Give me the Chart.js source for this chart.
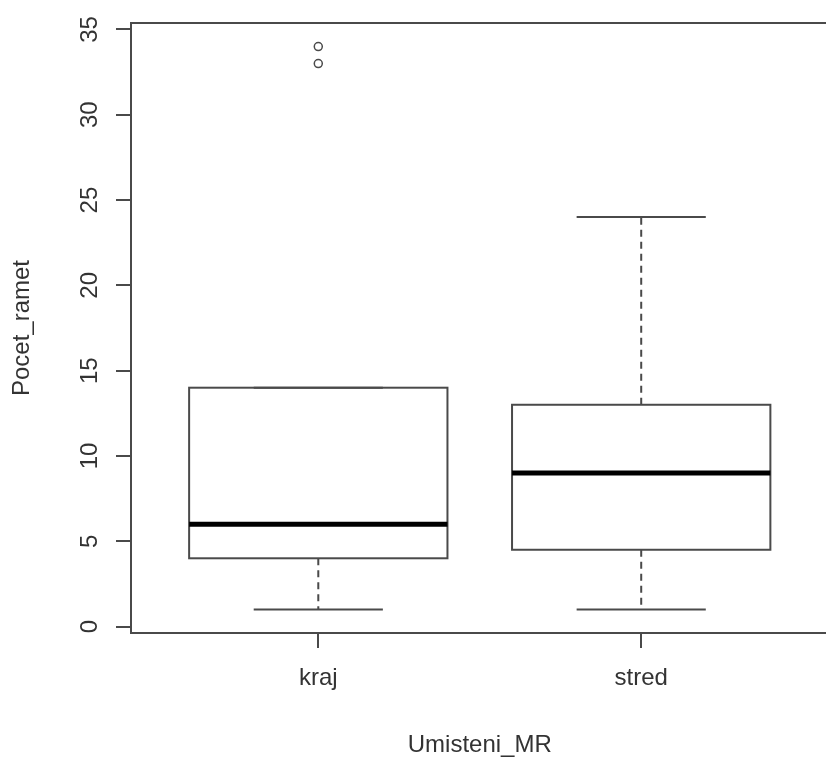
<!DOCTYPE html>
<html>
<head>
<meta charset="utf-8">
<script src="https://cdn.jsdelivr.net/npm/chart.js@4.4.0/dist/chart.umd.min.js"></script>
<style>
  html, body { margin: 0; padding: 0; background: #fff; overflow: hidden; }
  #wrap { width: 826px; height: 758px; overflow: hidden; }
  #box-chart { display: block; }
</style>
</head>
<body>
<div id="wrap"><canvas id="box-chart" width="834" height="758"></canvas></div>
<script>
// Boxplot data: Pocet_ramet by Umisteni_MR
const categories = ['kraj', 'stred'];
const whiskerLow = [1, 1];
const q1 = [4, 4.5];
const median = [6, 9];
const q3 = [14, 13];
const whiskerHigh = [14, 24];
const outliers = [[33, 34], []];
const yTicks = [0, 5, 10, 15, 20, 25, 30, 35];

const FONT = '"Liberation Sans", Arial, sans-serif';
const TEXT = '#333';
const LINE = '#4a4a4a';
const BOX_WIDTH = 0.8;

// outlier points go through a regular scatter dataset
const outlierPoints = [];
outliers.forEach(function(list, i) {
    list.forEach(function(v) { outlierPoints.push({ x: i + 1, y: v }); });
});

const boxPlugin = {
    id: 'rBox',
    beforeDatasetsDraw(chart) {
        const ctx = chart.ctx;
        const x = chart.scales.x, y = chart.scales.y;
        ctx.save();
        ctx.strokeStyle = LINE;
        ctx.lineCap = 'butt';
        categories.forEach(function(cat, i) {
            const c = x.getPixelForValue(i + 1);
            const l = x.getPixelForValue(i + 1 - BOX_WIDTH / 2);
            const r = x.getPixelForValue(i + 1 + BOX_WIDTH / 2);
            const cl = x.getPixelForValue(i + 1 - BOX_WIDTH / 4);
            const cr = x.getPixelForValue(i + 1 + BOX_WIDTH / 4);
            const yLo = y.getPixelForValue(whiskerLow[i]);
            const yQ1 = y.getPixelForValue(q1[i]);
            const yMed = y.getPixelForValue(median[i]);
            const yQ3 = y.getPixelForValue(q3[i]);
            const yHi = y.getPixelForValue(whiskerHigh[i]);

            // whiskers (dashed)
            ctx.lineWidth = 2;
            ctx.setLineDash([7, 5]);
            ctx.beginPath();
            ctx.moveTo(c, yQ1); ctx.lineTo(c, yLo);
            if (whiskerHigh[i] > q3[i]) { ctx.moveTo(c, yQ3); ctx.lineTo(c, yHi); }
            ctx.stroke();
            ctx.setLineDash([]);

            // caps
            ctx.beginPath();
            ctx.moveTo(cl, yLo); ctx.lineTo(cr, yLo);
            ctx.moveTo(cl, yHi); ctx.lineTo(cr, yHi);
            ctx.stroke();

            // box
            ctx.strokeRect(l, yQ3, r - l, yQ1 - yQ3);

            // median
            ctx.lineWidth = 5;
            ctx.strokeStyle = '#000';
            ctx.beginPath();
            ctx.moveTo(l, yMed); ctx.lineTo(r, yMed);
            ctx.stroke();
            ctx.strokeStyle = LINE;
        });
        ctx.restore();
    },
    afterDraw(chart) {
        const ctx = chart.ctx;
        const a = chart.chartArea;
        const y = chart.scales.y;
        ctx.save();
        // plot frame
        ctx.strokeStyle = LINE;
        ctx.lineWidth = 2;
        ctx.strokeRect(a.left, a.top, a.right - a.left, a.bottom - a.top);
        // rotated y tick labels, R style
        ctx.fillStyle = TEXT;
        ctx.font = '24px ' + FONT;
        ctx.textAlign = 'center';
        ctx.textBaseline = 'alphabetic';
        yTicks.forEach(function(v) {
            const py = y.getPixelForValue(v);
            ctx.save();
            ctx.translate(97, py);
            ctx.rotate(-Math.PI / 2);
            ctx.fillText(String(v), 0, 0);
            ctx.restore();
        });
        ctx.restore();
    }
};

const ctx = document.getElementById('box-chart').getContext('2d');
new Chart(ctx, {
    type: 'scatter',
    data: {
        datasets: [{
            label: 'outliers',
            data: outlierPoints,
            pointRadius: 4,
            pointHoverRadius: 4,
            borderWidth: 1.5,
            borderColor: LINE,
            backgroundColor: 'rgba(0,0,0,0)'
        }]
    },
    options: {
        responsive: false,
        animation: false,
        layout: { padding: { top: 23, right: 1, left: 0, bottom: 0 } },
        plugins: {
            legend: { display: false },
            tooltip: { enabled: false }
        },
        scales: {
            x: {
                type: 'linear',
                min: 0.42,
                max: 2.58,
                afterBuildTicks: function(scale) {
                    scale.ticks = categories.map(function(c, i) { return { value: i + 1 }; });
                },
                afterFit: function(scale) { scale.height = 125; },
                ticks: {
                    color: TEXT,
                    font: { family: FONT, size: 24 },
                    padding: 16,
                    maxRotation: 0,
                    callback: function(v) { return categories[v - 1]; }
                },
                grid: {
                    drawOnChartArea: false,
                    drawTicks: true,
                    tickLength: 15,
                    color: LINE,
                    lineWidth: 2
                },
                border: { display: false },
                title: {
                    display: true,
                    text: 'Umisteni_MR',
                    color: TEXT,
                    font: { family: FONT, size: 24, lineHeight: 1 },
                    padding: { top: 0, bottom: 1 }
                }
            },
            y: {
                min: -0.38,
                max: 35.38,
                afterBuildTicks: function(scale) {
                    scale.ticks = yTicks.map(function(v) { return { value: v }; });
                },
                afterFit: function(scale) { scale.width = 131; },
                ticks: { display: false },
                grid: {
                    drawOnChartArea: false,
                    drawTicks: true,
                    tickLength: 15,
                    color: LINE,
                    lineWidth: 2
                },
                border: { display: false },
                title: {
                    display: true,
                    text: 'Pocet_ramet',
                    color: TEXT,
                    font: { family: FONT, size: 24, lineHeight: 1 },
                    padding: { top: 10, bottom: 0 }
                }
            }
        }
    },
    plugins: [boxPlugin]
});
</script>
</body>
</html>
